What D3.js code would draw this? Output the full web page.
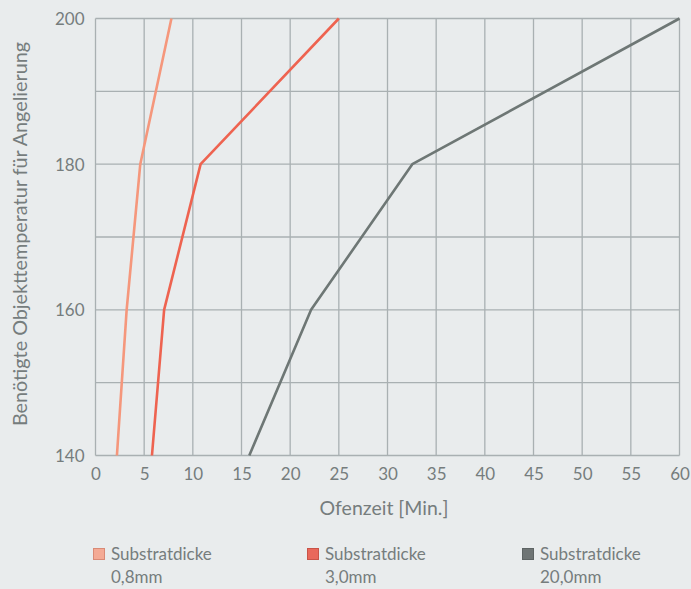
<!DOCTYPE html>
<html><head><meta charset="utf-8">
<script src="https://cdn.jsdelivr.net/npm/d3@7/dist/d3.min.js"></script>
<style>
html,body{margin:0;padding:0;background:#e9eced;}
text{font-family:Lato, "Open Sans", sans-serif;fill:#767d7d;}
</style></head><body>
<svg id="c" width="691" height="589"></svg>
<script>
const temps = [140, 160, 180, 200];
const seriesNames = ["Substratdicke 0,8mm", "Substratdicke 3,0mm", "Substratdicke 20,0mm"];
const series08 = [2.2, 3.2, 4.6, 7.8];
const series30 = [5.8, 7.05, 10.8, 25];
const series200 = [15.8, 22.15, 32.55, 60];
const xTicks = [0,5,10,15,20,25,30,35,40,45,50,55,60];
const yTicks = [140,160,180,200];
const yGrid = [140,150,160,170,180,190,200];
const lineColors = ["#f5977c", "#ee6350", "#6e7775"];
const legendFill = ["#f4aa95", "#e9685b", "#6f7575"];
const legendStroke = ["#d98a76", "#c95448", "#5e6464"];

const svg = d3.select("#c");
const x = d3.scaleLinear().domain([0,60]).range([95.5,679.5]);
const y = d3.scaleLinear().domain([140,200]).range([455.5,18.5]);

const g = svg.append("g");
g.selectAll(".vg").data(xTicks).join("line")
 .attr("x1",d=>x(d)).attr("x2",d=>x(d)).attr("y1",y(200)).attr("y2",y(140))
 .attr("stroke","#a9b0b2").attr("stroke-width",1.3);
g.selectAll(".hg").data(yGrid).join("line")
 .attr("x1",x(0)).attr("x2",x(60)).attr("y1",d=>y(d)).attr("y2",d=>y(d))
 .attr("stroke","#a9b0b2").attr("stroke-width",1.3);

const xAxis = d3.axisBottom(x).tickValues(xTicks).tickSize(0).tickPadding(0);
const xa = svg.append("g").attr("transform",`translate(0,${y(140)})`).call(xAxis);
xa.select(".domain").remove();
xa.selectAll("text").attr("dy",null).attr("y",24).style("font-size","17px").attr("fill","#767d7d");

const yAxis = d3.axisLeft(y).tickValues(yTicks).tickSize(0).tickPadding(0);
const ya = svg.append("g").attr("transform",`translate(${x(0)},0)`).call(yAxis);
ya.select(".domain").remove();
ya.selectAll("text").attr("x",-11).attr("dy","0.36em").style("font-size","17px").attr("fill","#767d7d");

const allSeries = [series08, series30, series200];
const line = d3.line().x(d=>x(d[0])).y(d=>y(d[1]));
allSeries.forEach((s,i)=>{
  svg.append("path").datum(s.map((v,j)=>[v,temps[j]]))
   .attr("d",line).attr("fill","none").attr("stroke",lineColors[i]).attr("stroke-width",2.6)
   .attr("stroke-linejoin","round");
});

svg.append("text").attr("x",384).attr("y",515).attr("text-anchor","middle")
 .style("font-size","19.5px").text("Ofenzeit [Min.]");
svg.append("text").attr("transform","translate(27,234) rotate(-90)").attr("text-anchor","middle")
 .style("font-size","19.8px").text("Benötigte Objekttemperatur für Angelierung");

const legX = [93, 307, 522];
seriesNames.forEach((n,i)=>{
  const parts = n.split(" ");
  svg.append("rect").attr("x",legX[i]+0.5).attr("y",548.5).attr("width",11).attr("height",11)
   .attr("fill",legendFill[i]).attr("stroke",legendStroke[i]).attr("stroke-width",1);
  const t = svg.append("text").attr("x",legX[i]+18).attr("y",560).style("font-size","17px");
  t.append("tspan").attr("x",legX[i]+18).text(parts[0]);
  t.append("tspan").attr("x",legX[i]+18).attr("dy",23).text(parts[1]);
});
</script></body></html>
